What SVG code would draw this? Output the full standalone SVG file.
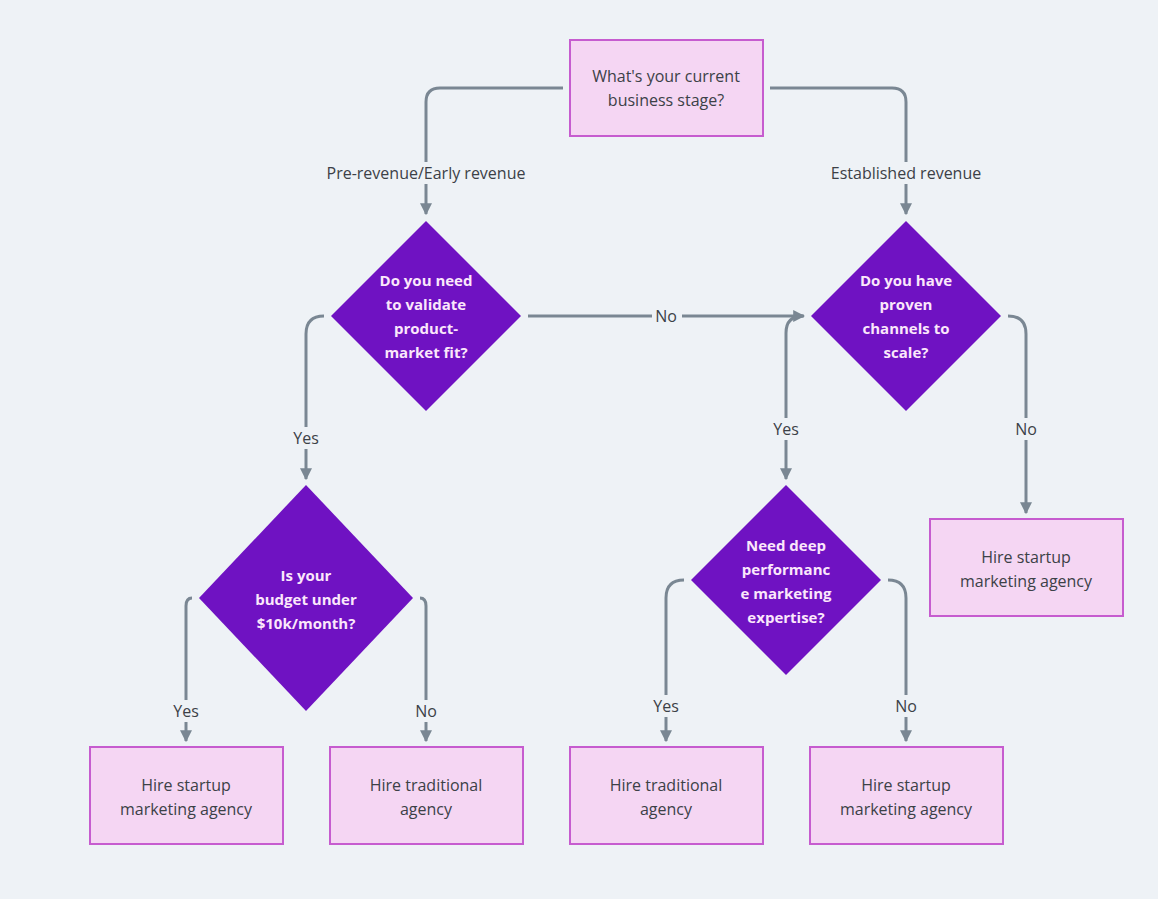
<svg xmlns="http://www.w3.org/2000/svg" width="1158" height="899" viewBox="0 0 1158 899">
<defs>
<marker id="ah" viewBox="0 0 10 10" refX="9" refY="5" markerWidth="4" markerHeight="4" orient="auto"><path d="M0,0 L10,5 L0,10 z" fill="#7a8793"/></marker>
<style>
.bx{fill:#f5d6f3;stroke:#c65ccf;stroke-width:2}
.dm{fill:#6f12c2}
.t{font-family:"Open Sans","DejaVu Sans",sans-serif;font-size:16px;fill:#3c4147;text-anchor:middle}
.w{font-family:"Open Sans","DejaVu Sans",sans-serif;font-size:15px;font-weight:bold;fill:#fbe7fb;text-anchor:middle}
.c{fill:none;stroke:#7a8793;stroke-width:3;marker-end:url(#ah)}
.lb{font-family:"Open Sans","DejaVu Sans",sans-serif;font-size:16px;fill:#3c4147;text-anchor:middle}
.bg{fill:#eef2f6}
</style>
</defs>
<rect width="1158" height="899" fill="#eef2f6"/>
<g id="connectors">
<path class="c" d="M563,88 H440 Q426,88 426,102 V214"/>
<path class="c" d="M770,88 H892 Q906,88 906,102 V214"/>
<path class="c" d="M528,316 H804"/>
<path class="c" d="M803,316 Q786,316 786,333 V479"/>
<path class="c" d="M1008,316 Q1026,316 1026,334 V513"/>
<path class="c" d="M324,316 Q306,316 306,334 V479"/>
<path class="c" d="M192,598 Q186,598 186,606 V741"/>
<path class="c" d="M420,598 Q426,598 426,606 V741"/>
<path class="c" d="M684,580 Q666,580 666,598 V741"/>
<path class="c" d="M888,580 Q906,580 906,598 V741"/>
<rect class="bg" x="318" y="162" width="216" height="22"/>
<text class="lb" x="426" y="179">Pre-revenue/Early revenue</text>
<rect class="bg" x="824" y="162" width="164" height="22"/>
<text class="lb" x="906" y="179">Established revenue</text>
<rect class="bg" x="652" y="305" width="30" height="22"/>
<text class="lb" x="666" y="322">No</text>
<rect class="bg" x="770" y="418" width="34" height="22"/>
<text class="lb" x="786" y="435">Yes</text>
<rect class="bg" x="1012" y="418" width="30" height="22"/>
<text class="lb" x="1026" y="435">No</text>
<rect class="bg" x="290" y="427" width="34" height="22"/>
<text class="lb" x="306" y="444">Yes</text>
<rect class="bg" x="170" y="700" width="34" height="22"/>
<text class="lb" x="186" y="717">Yes</text>
<rect class="bg" x="412" y="700" width="30" height="22"/>
<text class="lb" x="426" y="717">No</text>
<rect class="bg" x="650" y="695" width="34" height="22"/>
<text class="lb" x="666" y="712">Yes</text>
<rect class="bg" x="892" y="695" width="30" height="22"/>
<text class="lb" x="906" y="712">No</text>
</g>
<g id="start"><rect class="bx" x="570" y="40" width="193" height="96"/><text class="t" x="666" y="82">What's your current</text><text class="t" x="666" y="106">business stage?</text></g>
<g id="d1"><path class="dm" d="M426,221 L521,316 L426,411 L331,316 z"/><text class="w" x="426" y="286">Do you need</text><text class="w" x="426" y="310">to validate</text><text class="w" x="426" y="334">product-</text><text class="w" x="426" y="358">market fit?</text></g>
<g id="d2"><path class="dm" d="M906,221 L1001,316 L906,411 L811,316 z"/><text class="w" x="906" y="286">Do you have</text><text class="w" x="906" y="310">proven</text><text class="w" x="906" y="334">channels to</text><text class="w" x="906" y="358">scale?</text></g>
<g id="d3"><path class="dm" d="M306,485 L413,598 L306,711 L199,598 z"/><text class="w" x="306" y="581">Is your</text><text class="w" x="306" y="605">budget under</text><text class="w" x="306" y="629">$10k/month?</text></g>
<g id="d4"><path class="dm" d="M786,485 L881,580 L786,675 L691,580 z"/><text class="w" x="786" y="551">Need deep</text><text class="w" x="786" y="575">performanc</text><text class="w" x="786" y="599">e marketing</text><text class="w" x="786" y="623">expertise?</text></g>
<g id="r1"><rect class="bx" x="930" y="519" width="193" height="97"/><text class="t" x="1026" y="563">Hire startup</text><text class="t" x="1026" y="587">marketing agency</text></g>
<g id="r2"><rect class="bx" x="90" y="747" width="193" height="97"/><text class="t" x="186" y="791">Hire startup</text><text class="t" x="186" y="815">marketing agency</text></g>
<g id="r3"><rect class="bx" x="330" y="747" width="193" height="97"/><text class="t" x="426" y="791">Hire traditional</text><text class="t" x="426" y="815">agency</text></g>
<g id="r4"><rect class="bx" x="570" y="747" width="193" height="97"/><text class="t" x="666" y="791">Hire traditional</text><text class="t" x="666" y="815">agency</text></g>
<g id="r5"><rect class="bx" x="810" y="747" width="193" height="97"/><text class="t" x="906" y="791">Hire startup</text><text class="t" x="906" y="815">marketing agency</text></g>
</svg>
